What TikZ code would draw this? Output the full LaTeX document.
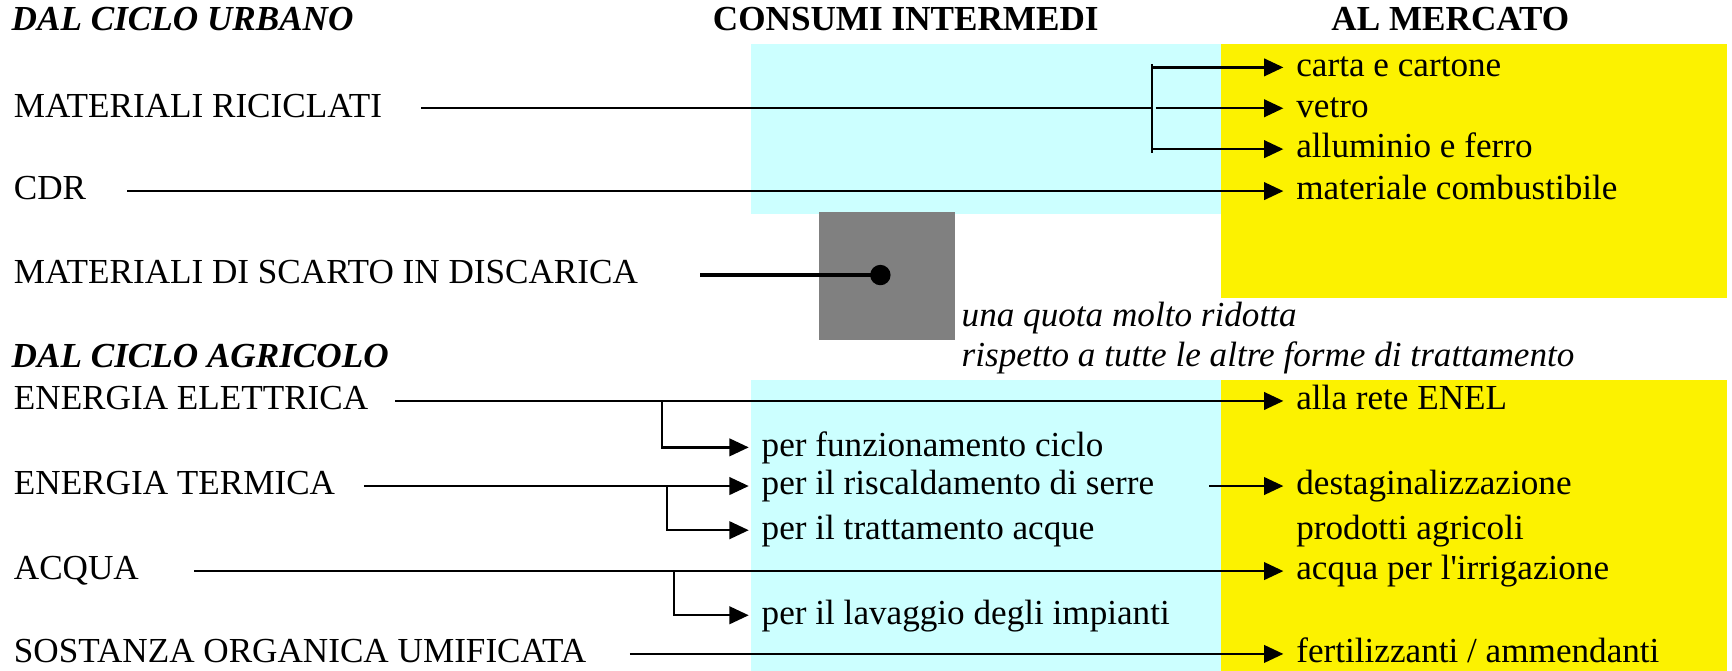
\documentclass[tikz,border=0pt]{standalone}
\usepackage{fontspec}
\setmainfont{Liberation Serif}
\usetikzlibrary{arrows.meta}

\definecolor{consumi}{RGB}{204,255,255}
\definecolor{mercato}{RGB}{252,242,0}
\definecolor{discarica}{RGB}{128,128,128}

\begin{document}
\begin{tikzpicture}[x=0.11046mm,y=-0.11046mm,
  lbl/.style={anchor=west,inner xsep=2.5pt,inner ysep=0pt,text height=7.2pt,text depth=2.2pt,font=\fontsize{10}{12}\selectfont},
  head/.style={anchor=base,inner sep=0pt,font=\fontsize{10}{12}\selectfont\bfseries},
  sect/.style={anchor=base west,inner sep=0pt,font=\fontsize{10}{12}\selectfont\bfseries\itshape},
  note/.style={anchor=base west,inner sep=0pt,font=\fontsize{10}{12}\selectfont\itshape},
  flow/.style={line width=0.65pt,-{Triangle[length=5.5pt,width=5pt]},shorten >=1pt},
  branch/.style={line width=0.5pt}]
  \useasboundingbox (0,0) rectangle (1568,607);
  % Background panels first
  \fill[consumi] (680,40) rectangle (1105,194);
  \fill[consumi] (680,344) rectangle (1105,607);
  \fill[mercato] (1105,40) rectangle (1563,270);
  \fill[mercato] (1105,344) rectangle (1563,607);
  \fill[discarica] (741,192) rectangle (865,308);
  % Headings
  \node[sect] (urbano) at (10,28) {DAL CICLO URBANO};
  \node[head] (interm) at (820,28) {CONSUMI INTERMEDI};
  \node[head] (merc) at (1313,28) {AL MERCATO};
  \node[sect] (agricolo) at (10,333) {DAL CICLO AGRICOLO};
  % Sources
  \node[lbl] (ric) at (4,98) {MATERIALI RICICLATI};
  \node[lbl] (cdr) at (4,173) {CDR};
  \node[lbl] (scarto) at (4,249) {MATERIALI DI SCARTO IN DISCARICA};
  \node[lbl] (elet) at (4,363) {ENERGIA ELETTRICA};
  \node[lbl] (term) at (4,440) {ENERGIA TERMICA};
  \node[lbl] (acqua) at (4,517) {ACQUA};
  \node[lbl] (sost) at (4,592) {SOSTANZA ORGANICA UMIFICATA};
  % Intermediate uses
  \node[lbl] (funz) at (681,405) {per funzionamento ciclo};
  \node[lbl] (risc) at (681,440) {per il riscaldamento di serre};
  \node[lbl] (tratt) at (681,480) {per il trattamento acque};
  \node[lbl] (lavag) at (681,557) {per il lavaggio degli impianti};
  % Market
  \node[lbl] (carta) at (1165,61) {carta e cartone};
  \node[lbl] (vetro) at (1165,98) {vetro};
  \node[lbl] (allum) at (1165,135) {alluminio e ferro};
  \node[lbl] (comb) at (1165,173) {materiale combustibile};
  \node[lbl] (enel) at (1165,363) {alla rete ENEL};
  \node[lbl] (destag) at (1165,440) {destaginalizzazione};
  \node[lbl] (prod) at (1165,480) {prodotti agricoli};
  \node[lbl] (irrig) at (1165,517) {acqua per l\textquotesingle irrigazione};
  \node[lbl] (fert) at (1165,592) {fertilizzanti / ammendanti};
  \node[note] (quota) at (870,296) {una quota molto ridotta};
  \node[note] (resto) at (870,332) {rispetto a tutte le altre forme di trattamento};
  % Urban flows
  \coordinate (ric-j) at (1043,98);
  \draw[line width=0.65pt] ([xshift=8.5pt]ric.east) -- (ric-j);
  \draw[branch] ([yshift=1pt]ric-j |- carta.west) -- ([yshift=-1pt]ric-j |- allum.west);
  \draw[flow] (ric-j |- carta.west) -- (carta.west);
  \draw[flow] ([xshift=1pt]ric-j) -- (vetro.west);
  \draw[flow] (ric-j |- allum.west) -- (allum.west);
  \draw[flow] ([xshift=9pt]cdr.east) -- (comb.west);
  \coordinate (fondo) at (797,249);
  \draw[line width=1.2pt] ([xshift=15pt]scarto.east) -- (fondo);
  \fill (fondo) circle (2.9pt);
  % Agricultural flows
  \coordinate (elet-j) at (599,363);
  \coordinate (term-j) at (604,440);
  \coordinate (acqua-j) at (610,517);
  \draw[flow] ([xshift=5pt]elet.east) -- (enel.west);
  \draw[flow] (elet-j) |- (funz.west);
  \draw[flow] ([xshift=5.5pt]term.east) -- (risc.west);
  \draw[flow] (term-j) |- (tratt.west);
  \draw[flow] ([xshift=13pt]risc.east) -- (destag.west);
  \draw[flow] ([xshift=13pt]acqua.east) -- (irrig.west);
  \draw[flow] (acqua-j) |- (lavag.west);
  \draw[flow] ([xshift=9.7pt]sost.east) -- (fert.west);
\end{tikzpicture}
\end{document}
